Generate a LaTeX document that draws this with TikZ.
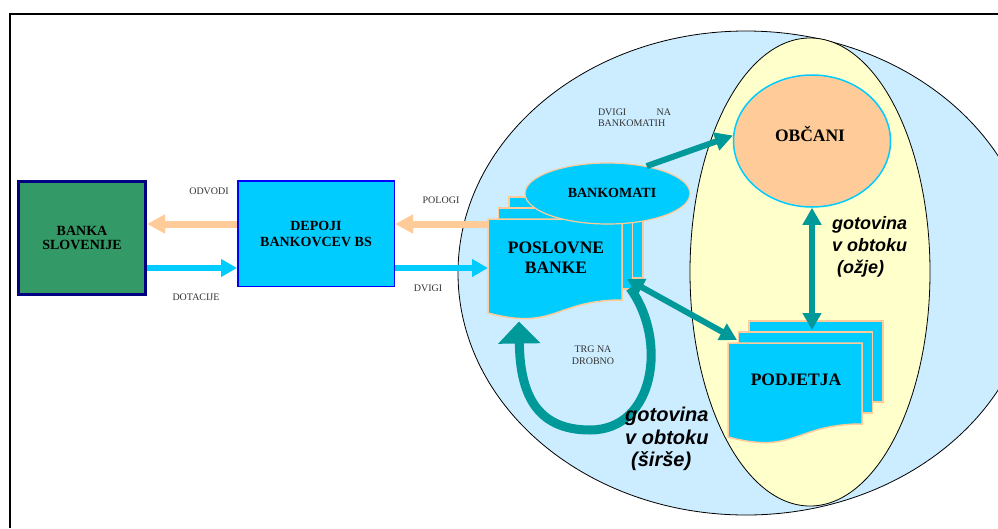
\documentclass[tikz,border=0pt]{standalone}
\usepackage{fontspec}
\setmainfont{Liberation Serif}
\newfontfamily\arialf{Liberation Sans}
\usetikzlibrary{arrows.meta,calc,shapes.geometric}
\definecolor{paleblue}{HTML}{CCECFF}
\definecolor{paleyellow}{HTML}{FFFFCC}
\definecolor{cyanfill}{HTML}{00CCFF}
\definecolor{peach}{HTML}{FFCC99}
\definecolor{bsgreen}{HTML}{339966}
\definecolor{navy}{HTML}{000080}
\definecolor{tealc}{HTML}{009999}
\definecolor{labelgray}{HTML}{333333}
\definecolor{depblue}{HTML}{0000FF}
\begin{document}
\begin{tikzpicture}[x=1pt,y=-1pt,
  lbl/.style={font=\fontsize{10}{12}\selectfont, text=labelgray, inner sep=0pt, align=center},
  bigtxt/.style={font=\bfseries\fontsize{17.5}{20}\selectfont, inner sep=0pt, align=center},
  gotlbl/.style={font=\arialf\bfseries\itshape\fontsize{18}{22}\selectfont, inner sep=0pt, align=left, anchor=west},
  peacharrow/.style={draw=peach, line width=7pt, -{Triangle[length=18pt,width=18pt]}},
  cyanarrow/.style={draw=cyanfill, line width=5.5pt, -{Triangle[length=16pt,width=17pt]}},
  tealarrow/.style={draw=tealc, line width=6pt, -{Triangle[length=18pt,width=18pt]}},
  tealdouble/.style={draw=tealc, line width=6pt, {Triangle[length=17pt,width=18pt]}-{Triangle[length=17pt,width=18pt]}},
  docarea/.style={minimum width=134pt, minimum height=101pt, inner sep=0pt, outer sep=0pt},
  pagebox/.style={fill=cyanfill, draw=peach, line width=1.5pt},
]
\useasboundingbox (0,0) rectangle (998,528);
\fill[white] (0,0) rectangle (998,528);
\draw[line width=2pt] (998,14) -- (10,14) -- (10,528);

% background ellipses
\node[ellipse, fill=paleblue, draw=black, line width=0.8pt, minimum width=576pt, minimum height=484pt, inner sep=0pt] (wide) at (746,273) {};
\node[ellipse, fill=paleyellow, draw=black, line width=0.8pt, minimum width=240pt, minimum height=468pt, inner sep=0pt] (narrow) at (810,272) {};

% nodes
\node[rectangle, fill=bsgreen, draw=navy, line width=3pt, minimum width=127pt, minimum height=113pt, inner sep=0pt,
      font=\bfseries\fontsize{14}{14.5}\selectfont, align=center] (bs) at (82,238) {BANKA\\SLOVENIJE};
\node[rectangle, fill=cyanfill, draw=depblue, line width=1.5pt, minimum width=156.5pt, minimum height=105.5pt, inner sep=0pt,
      font=\bfseries\fontsize{14}{16}\selectfont, align=center] (dep) at (316,233.5) {DEPOJI\\BANKOVCEV BS};
\node[docarea] (pb) at (555,269.5) {};
\node[docarea] (pod) at (795,393.5) {};

\coordinate (yu) at (0,224);
\coordinate (yd) at (0,268);

% block arrows
\draw[peacharrow] (dep.west |- yu) -- (bs.east |- yu);
\draw[cyanarrow] (bs.east |- yd) -- (dep.west |- yd);
\draw[peacharrow] (pb.west |- yu) -- (dep.east |- yu);
\draw[cyanarrow] (dep.east |- yd) -- (pb.west |- yd);

% multi-documents
\foreach \d in {pb,pod}{
  \draw[pagebox] ($(\d.north west)+(21,-22)$) rectangle ($(\d.north east)+(21,59)$);
  \draw[pagebox] ($(\d.north west)+(10.5,-11)$) rectangle ($(\d.north east)+(10.5,70)$);
  \draw[pagebox] (\d.north west) -- (\d.north east) -- ($(\d.north east)+(0,81)$)
     .. controls ($(\d.north)+(0,81)$) and ($(\d.north)+(0,112)$) .. ($(\d.north west)+(0,94)$) -- cycle;
}

\node[ellipse, fill=cyanfill, draw=peach, line width=1.2pt, minimum width=165pt, minimum height=61pt, inner sep=0pt] (bkm) at (607.5,193.5) {};
\node[ellipse, fill=peach, draw=cyanfill, line width=1.5pt, minimum width=157pt, minimum height=132pt, inner sep=0pt] (obc) at (812,141) {};

% texts in shapes
\node[bigtxt] (pbtxt) at (556,258) {POSLOVNE\\BANKE};
\node[bigtxt] (podtxt) at (796,380) {PODJETJA};
\node[bigtxt] (obctxt) at (810,134) {OBČANI};
\node[font=\bfseries\fontsize{14}{16}\selectfont, inner sep=0pt] (bkmtxt) at (612,193) {BANKOMATI};

% teal connectors
\draw[tealarrow] (bkm.35) -- (obc.176);
\coordinate (pbr) at ($(pb.east)+(5,9.5)$);
\coordinate (podl) at ($(pod.north west)+(9,-3)$);
\draw[tealdouble] (pbr) -- (podl);
\coordinate (podtop) at ($(pod.north)+(0,-13)$);
\draw[tealdouble] (obc.south) -- (obc.south |- podtop);
\coordinate (loopa) at ($(pb.east)+(8,18.5)$);
\coordinate (loopb) at ($(pb.south)+(-36,1.5)$);
\draw[draw=tealc, line width=9pt, -{Triangle[length=22pt,width=41pt]}]
  (loopa) .. controls (668,340) and (655,430) .. (590,430)
          .. controls (535,430) and (520,392) .. (loopb);

% labels
\node[lbl] (odv) at (209,191) {ODVODI};
\node[lbl] (dot) at (196,297) {DOTACIJE};
\node[lbl] (pol) at (441,200) {POLOGI};
\node[lbl] (dvi) at (428,288) {DVIGI};
\node[lbl, text width=73pt, align=left, font=\fontsize{10}{11}\selectfont] (dna) at (634.5,117.5) {DVIGI\hfill NA\\BANKOMATIH};
\node[lbl] (trg) at (593,355) {TRG NA\\DROBNO};
\node[gotlbl, font=\arialf\bfseries\itshape\fontsize{20}{22.5}\selectfont] (gs) at (625,439) {gotovina\\v obtoku\\\hspace*{6pt}(širše)};
\node[gotlbl] (go) at (832,247) {gotovina\\v obtoku\\\hspace*{5pt}(ožje)};
\end{tikzpicture}
\end{document}
